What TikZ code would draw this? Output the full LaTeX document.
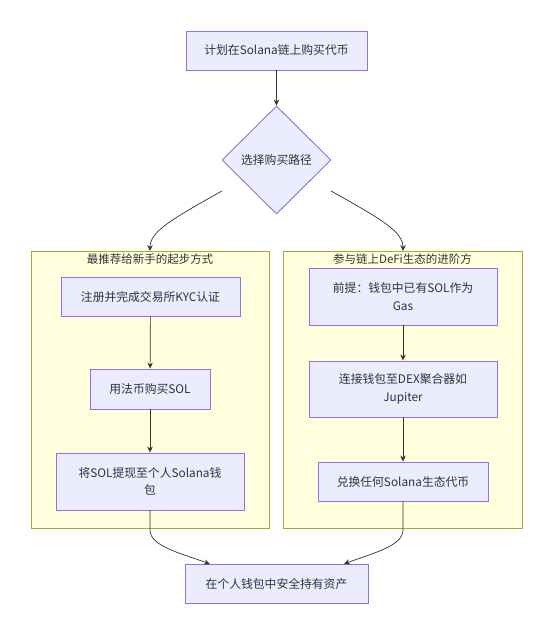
\documentclass[tikz,border=0pt]{standalone}
\usepackage{fontspec}
\setmainfont{Noto Sans CJK SC}
\usetikzlibrary{shapes.geometric,arrows.meta}
\definecolor{nodefill}{HTML}{ECECFF}
\definecolor{nodeline}{HTML}{9370DB}
\definecolor{clfill}{HTML}{FFFFDE}
\definecolor{clline}{HTML}{AAAA33}
\definecolor{ink}{HTML}{333333}
\tikzset{
  box/.style={draw=nodeline, fill=nodefill, line width=0.9pt, text=ink, align=center, inner sep=0pt},
  decide/.style={diamond, draw=nodeline, fill=nodefill, line width=0.9pt, text=ink, inner sep=0pt, minimum width=109pt, minimum height=108pt},
  cluster/.style={draw=clline, fill=clfill, line width=0.9pt},
  cltitle/.style={text=ink, inner sep=0pt, font=\fontsize{11.5}{16}\selectfont},
  link/.style={draw=ink, line width=0.7pt, -{Stealth[length=6pt,width=5.5pt]}},
}
\begin{document}
\begin{tikzpicture}[x=1pt,y=-1pt,font=\fontsize{11.8}{17.5}\selectfont]
\useasboundingbox (0,0) rectangle (554,635);
% clusters
\draw[cluster] (31,251) rectangle (269,528);
\draw[cluster] (283,251) rectangle (522,528);
\node[cltitle] (t1) at (150,259) {最推荐给新手的起步方式};
\node[cltitle] (t2) at (402.5,259) {参与链上DeFi生态的进阶方};
% nodes
\node[box, minimum width=181pt, minimum height=39pt] (a) at (276.5,50.5) {计划在Solana链上购买代币};
\node[decide] (b) at (276.5,160) {选择购买路径};
\node[box, minimum width=179pt, minimum height=39pt] (l1) at (150.5,296.5) {注册并完成交易所KYC认证};
\node[box, minimum width=120pt, minimum height=40pt] (l2) at (150,389) {用法币购买SOL};
\node[box, minimum width=188pt, minimum height=57pt] (l3) at (150,481.5) {将SOL提现至个人Solana钱\\包};
\node[box, minimum width=188pt, minimum height=57pt] (r1) at (403,296.5) {前提：钱包中已有SOL作为\\Gas};
\node[box, minimum width=188pt, minimum height=56pt] (r2) at (403,389) {连接钱包至DEX聚合器如\\Jupiter};
\node[box, minimum width=170pt, minimum height=39pt] (r3) at (403,481.5) {兑换任何Solana生态代币};
\node[box, minimum width=183pt, minimum height=39pt] (z) at (276.5,583.5) {在个人钱包中安全持有资产};
% helper coordinates
\coordinate (bl) at (222,191);
\coordinate (br) at (331,191);
\coordinate (c1) at (150,251);
\coordinate (c2) at (403,251);
\coordinate (zl) at (210,564);
\coordinate (zr) at (344,564);
% edges
\draw[link] (a) -- (b);
\draw[link] (bl) .. controls (170,220) and (150,232) .. (c1);
\draw[link] (br) .. controls (383,220) and (403,232) .. (c2);
\draw[link] (l1) -- (l2);
\draw[link] (l2) -- (l3);
\draw[link] (r1) -- (r2);
\draw[link] (r2) -- (r3);
\draw[link] (l3.south) -- (150,530) .. controls (150,546) and (180,553) .. (zl);
\draw[link] (r3.south) -- (403,530) .. controls (403,546) and (373,553) .. (zr);
\end{tikzpicture}
\end{document}
